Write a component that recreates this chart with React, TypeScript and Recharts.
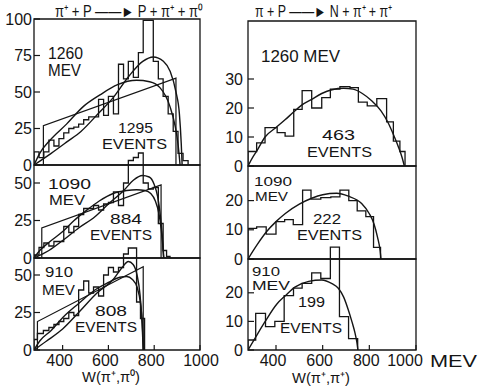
import React from 'react';
import { ComposedChart, Line, XAxis, YAxis, ReferenceArea } from 'recharts';

type Pt = [number, number];

// ---------- LEFT COLUMN: pi+ + p -> p + pi+ + pi0 ----------
const tlEdges = [275, 297, 318, 340, 362, 384, 405, 427, 449, 470, 492, 514, 535, 557, 579, 600, 622, 644, 666, 687, 709, 731, 752, 774, 796, 818, 839, 861, 883, 904, 926, 948];
const tlCounts = [9, 5, 9, 17, 13, 18, 22, 25, 26, 28, 31, 33, 33, 45, 34, 47, 35, 69, 59, 71, 60, 77, 99, 99, 71, 59, 47, 35, 23, 8, 3];
const tlBroad: Pt[] = [[275, 0], [300, 8], [345, 17], [417, 28], [490, 40], [563, 48], [640, 55], [723, 58], [780, 57], [825, 53], [869, 40], [891, 27], [905, 13], [913, 0]];
const tlPeaked: Pt[] = [[275, 0], [350, 8], [420, 16], [480, 23], [560, 36], [620, 46], [690, 61], [750, 71], [796, 74], [840, 71], [870, 64], [895, 50], [910, 35], [918, 15], [922, 0]];
const tlTrap: Pt[] = [[316, 0], [316, 27], [895, 59.5], [895, 0]];

const mlEdges = [275, 297, 318, 340, 362, 384, 405, 427, 449, 470, 492, 514, 535, 557, 579, 600, 622, 644, 666, 687, 709, 731, 752, 774, 796, 818, 839, 854, 869];
const mlCounts = [2, 7, 10, 8, 11, 11, 21, 17, 21, 29, 33, 33, 35, 32, 36, 37, 44, 35, 50, 65, 67, 70, 50, 46, 47, 23, 5, 1];
const mlBroad: Pt[] = [[275, 0], [300, 5], [345, 11], [403, 18], [450, 25], [498, 31], [560, 38], [621, 43], [680, 45], [723, 45.5], [760, 45], [785, 43], [805, 38], [820, 30], [830, 20], [837, 9], [841, 0]];
const mlPeaked: Pt[] = [[275, 0], [340, 5], [403, 12], [470, 20], [541, 27.5], [600, 36], [667, 45], [710, 52], [748, 55], [778, 54], [800, 49], [815, 41], [827, 28], [836, 13], [842, 0]];
const mlTrap: Pt[] = [[309, 0], [309, 20], [830, 48.7], [830, 0]];

const blEdges = [275, 290, 316, 340, 362, 384, 405, 427, 449, 470, 492, 514, 535, 557, 579, 600, 622, 644, 666, 687, 709, 723, 740, 758];
const blCounts = [7, 11, 13, 15, 17, 19, 21, 25, 23, 40, 46, 38, 42, 36, 50, 55, 52, 55, 64, 68, 68, 32, 21];
const blBroad: Pt[] = [[275, 0], [300, 6], [350, 13], [403, 22], [470, 31], [541, 40], [600, 45], [650, 48.5], [680, 49], [705, 47], [725, 42], [740, 31], [748, 18], [753, 0]];
const blPeaked: Pt[] = [[275, 0], [330, 6], [400, 14], [476, 26], [550, 38], [621, 47], [660, 55], [687, 59], [708, 57], [725, 50], [738, 37], [747, 18], [752, 0]];
const blTrap: Pt[] = [[290, 0], [290, 19], [752, 55.5], [752, 0]];

// ---------- RIGHT COLUMN: pi- + p -> n + pi+ + pi+ ----------
const trEdges = [280, 317, 353, 405, 439, 476, 512, 553, 596, 633, 674, 717, 753, 791, 832, 874, 903, 931, 953];
const trCounts = [5, 8, 13.2, 11.5, 10.3, 19.5, 26, 20, 23.6, 26.5, 27.4, 27, 22, 20.7, 23.2, 15.2, 8.6, 5];
const trCurve: Pt[] = [[280, 0], [300, 3], [320, 5.5], [353, 10], [396, 13], [440, 16], [474, 18.5], [510, 21], [553, 23], [596, 25], [640, 26.3], [690, 26.8], [730, 26.5], [770, 25], [810, 22.5], [850, 19], [880, 15], [905, 10.5], [925, 6.5], [940, 3], [950, 0]];

const mrEdges = [280, 317, 358, 400, 437, 474, 514, 550, 592, 635, 674, 712, 748, 785, 818, 848];
const mrCounts = [10.5, 11, 8.5, 12.8, 13.5, 11.8, 23.6, 20.5, 21, 21.3, 23.6, 20, 16.5, 14.5, 4];
const mrCurve: Pt[] = [[280, 0], [320, 5], [360, 9.4], [400, 12.8], [440, 15.6], [500, 18.8], [553, 20.8], [600, 22], [660, 22.5], [710, 21.5], [767, 19], [800, 15.5], [820, 12], [835, 7.5], [846, 3], [850, 0]];

const brEdges = [280, 313, 355, 395, 435, 475, 512, 553, 592, 633, 672, 711, 750];
const brCounts = [3.5, 12.8, 8.2, 10, 19, 21.6, 23.3, 27, 25, 36, 11.7, 4];
const brCurve: Pt[] = [[280, 0], [320, 5.5], [353, 9.9], [403, 16], [440, 19], [481, 22], [540, 24], [596, 24.5], [640, 23.2], [667, 21.6], [690, 18.5], [710, 14], [725, 10], [739, 5.8], [747, 2.5], [751, 0]];

const leftYTop = [0, 25, 50, 75, 100];
const leftYSub = [0, 25, 50];
const rightYTop = [0, 10, 20, 30];
const rightYSub = [0, 10, 20];
const xTicksAll = [400, 600, 800, 1000];
const xTicksInner = [400, 600, 800];

const FONT = "'Liberation Sans', Arial, sans-serif";
const INK = '#151515';

const toPts = (pts: Pt[]) => pts.map(([x, y]) => ({ x, y }));
const toHist = (edges: number[], counts: number[]) => {
  const out = [{ x: edges[0], y: 0 }];
  counts.forEach((c, i) => out.push({ x: edges[i], y: c }));
  out.push({ x: edges[edges.length - 1], y: 0 });
  return out;
};

interface PanelProps {
  plotLeft: number;
  plotWidth: number;
  zeroPx: number;
  frameTopPx: number;
  plotTopPx: number;
  ppu: number;
  xDomain: [number, number];
  yTicks: number[];
  yAxisW: number;
  yTickMargin: number;
  bottom: boolean;
  labelDx: number;
  lastDx: number;
  hist: { x: number; y: number }[];
  curves: { x: number; y: number }[][];
  traps: { x: number; y: number }[][];
}

const Panel = (p: PanelProps) => {
  const plotH = p.zeroPx - p.plotTopPx;
  const domTop = plotH / p.ppu;
  const frameTop = (p.zeroPx - p.frameTopPx) / p.ppu;
  const xAxisH = 40;
  const mr = 28;
  const mt = 12;
  const tickRender = (props: any) => {
    const { x, y, payload } = props;
    const v = payload.value;
    const dx = v === 1000 ? p.lastDx : p.labelDx;
    return (
      <text x={x + dx} y={y} dy="0.71em" textAnchor="middle" fontSize={16} fontFamily={FONT} fill={INK}>
        {v}
      </text>
    );
  };
  return (
    <div style={{ position: 'absolute', left: p.plotLeft - p.yAxisW, top: p.plotTopPx - mt }}>
      <ComposedChart
        width={p.yAxisW + p.plotWidth + mr}
        height={plotH + xAxisH + mt}
        margin={{ top: mt, right: mr, bottom: 0, left: 0 }}
      >
        <XAxis
          type="number"
          dataKey="x"
          domain={p.xDomain}
          allowDataOverflow
          ticks={p.bottom ? xTicksAll : xTicksInner}
          interval={0}
          axisLine={false}
          tickLine={{ stroke: INK, strokeWidth: 1.2 }}
          tickSize={-5}
          tickMargin={10}
          height={xAxisH}
          tick={p.bottom ? tickRender : false}
        />
        <YAxis
          type="number"
          domain={[0, domTop]}
          allowDataOverflow
          ticks={p.yTicks}
          interval={0}
          axisLine={false}
          tickLine={{ stroke: INK, strokeWidth: 1.2 }}
          tickSize={-6}
          tickMargin={p.yTickMargin}
          width={p.yAxisW}
          tick={{ fontSize: 16, fontFamily: FONT, fill: INK }}
        />
        <ReferenceArea
          x1={p.xDomain[0]}
          x2={p.xDomain[1]}
          y1={0}
          y2={frameTop}
          fill="none"
          fillOpacity={0}
          stroke={INK}
          strokeWidth={1.3}
          ifOverflow="visible"
        />
        <Line data={p.hist} dataKey="y" type="stepAfter" stroke={INK} strokeWidth={1.3} dot={false} isAnimationActive={false} />
        {p.curves.map((c, i) => (
          <Line key={'c' + i} data={c} dataKey="y" type="monotone" stroke={INK} strokeWidth={1.4} dot={false} isAnimationActive={false} />
        ))}
        {p.traps.map((c, i) => (
          <Line key={'t' + i} data={c} dataKey="y" type="linear" stroke={INK} strokeWidth={1.2} dot={false} isAnimationActive={false} />
        ))}
      </ComposedChart>
    </div>
  );
};

const leftCol = { plotLeft: 34, plotWidth: 166, xDomain: [275, 1000] as [number, number], yAxisW: 34, yTickMargin: 8, labelDx: -3, lastDx: 1 };
const rightCol = { plotLeft: 248, plotWidth: 168, xDomain: [280, 1000] as [number, number], yAxisW: 40, yTickMargin: 11, labelDx: -3, lastDx: -11 };

interface Txt { t: string; x: number; y: number; s: number; w: number }
const texts: Txt[] = [
  { t: 'π⁺ + P ——► P + π⁺ + π⁰', x: 55, y: 17, s: 16, w: 148 },
  { t: 'π + P ——► N + π⁺ + π⁺', x: 255, y: 17, s: 16, w: 137 },
  { t: '1260', x: 48, y: 59, s: 16, w: 35 },
  { t: 'MEV', x: 48, y: 76, s: 16, w: 33 },
  { t: '1295', x: 118, y: 133, s: 14, w: 35 },
  { t: 'EVENTS', x: 102, y: 149, s: 15, w: 65 },
  { t: '1090', x: 48, y: 189, s: 15, w: 43 },
  { t: 'MEV', x: 49, y: 205, s: 15, w: 36 },
  { t: '884', x: 110, y: 224, s: 15, w: 32 },
  { t: 'EVENTS', x: 90, y: 240, s: 15, w: 62 },
  { t: '910', x: 45, y: 277, s: 15, w: 28 },
  { t: 'MEV', x: 42, y: 295, s: 15, w: 33 },
  { t: '808', x: 95, y: 316, s: 15, w: 32 },
  { t: 'EVENTS', x: 75, y: 332, s: 15, w: 62 },
  { t: '1260 MEV', x: 261, y: 62, s: 16, w: 79 },
  { t: '463', x: 322, y: 140, s: 15, w: 33 },
  { t: 'EVENTS', x: 307, y: 157, s: 15, w: 65 },
  { t: '1090', x: 254, y: 186, s: 12, w: 38 },
  { t: 'MEV', x: 255, y: 201, s: 13, w: 33 },
  { t: '222', x: 313, y: 224, s: 15, w: 28 },
  { t: 'EVENTS', x: 297, y: 240, s: 15, w: 65 },
  { t: '910', x: 252, y: 276, s: 13, w: 28 },
  { t: 'MEV', x: 252, y: 290, s: 13, w: 38 },
  { t: '199', x: 298, y: 307, s: 15, w: 27 },
  { t: 'EVENTS', x: 280, y: 333, s: 15, w: 62 },
  { t: 'MEV', x: 430, y: 367, s: 16, w: 47 },
  { t: 'W(π⁺,π⁰)', x: 82, y: 382, s: 15, w: 58 },
  { t: 'W(π⁺,π⁺)', x: 292, y: 383, s: 15, w: 58 },
];

export default function App() {
  return (
    <div style={{ position: 'absolute', left: 0, top: 0, width: 479, height: 387, background: '#fff', overflow: 'hidden' }}>
      <Panel {...leftCol} zeroPx={165} frameTopPx={19} plotTopPx={19} ppu={1.46} yTicks={leftYTop} bottom={false}
        hist={toHist(tlEdges, tlCounts)} curves={[toPts(tlBroad), toPts(tlPeaked)]} traps={[toPts(tlTrap)]} />
      <Panel {...leftCol} zeroPx={258} frameTopPx={165} plotTopPx={144} ppu={1.5} yTicks={leftYSub} bottom={false}
        hist={toHist(mlEdges, mlCounts)} curves={[toPts(mlBroad), toPts(mlPeaked)]} traps={[toPts(mlTrap)]} />
      <Panel {...leftCol} zeroPx={350} frameTopPx={258} plotTopPx={236} ppu={1.5} yTicks={leftYSub} bottom={true}
        hist={toHist(blEdges, blCounts)} curves={[toPts(blBroad), toPts(blPeaked)]} traps={[toPts(blTrap)]} />
      <Panel {...rightCol} zeroPx={166} frameTopPx={21} plotTopPx={21} ppu={2.9} yTicks={rightYTop} bottom={false}
        hist={toHist(trEdges, trCounts)} curves={[toPts(trCurve)]} traps={[]} />
      <Panel {...rightCol} zeroPx={259} frameTopPx={166} plotTopPx={166} ppu={2.92} yTicks={rightYSub} bottom={false}
        hist={toHist(mrEdges, mrCounts)} curves={[toPts(mrCurve)]} traps={[]} />
      <Panel {...rightCol} zeroPx={350} frameTopPx={259} plotTopPx={240} ppu={2.86} yTicks={rightYSub} bottom={true}
        hist={toHist(brEdges, brCounts)} curves={[toPts(brCurve)]} traps={[]} />
      <svg width={479} height={387} style={{ position: 'absolute', left: 0, top: 0, pointerEvents: 'none' }}>
        {texts.map((d, i) => (
          <text key={i} x={d.x} y={d.y} fontSize={d.s} fontFamily={FONT} fill={INK} textLength={d.w} lengthAdjust="spacingAndGlyphs">
            {d.t}
          </text>
        ))}
      </svg>
    </div>
  );
}
